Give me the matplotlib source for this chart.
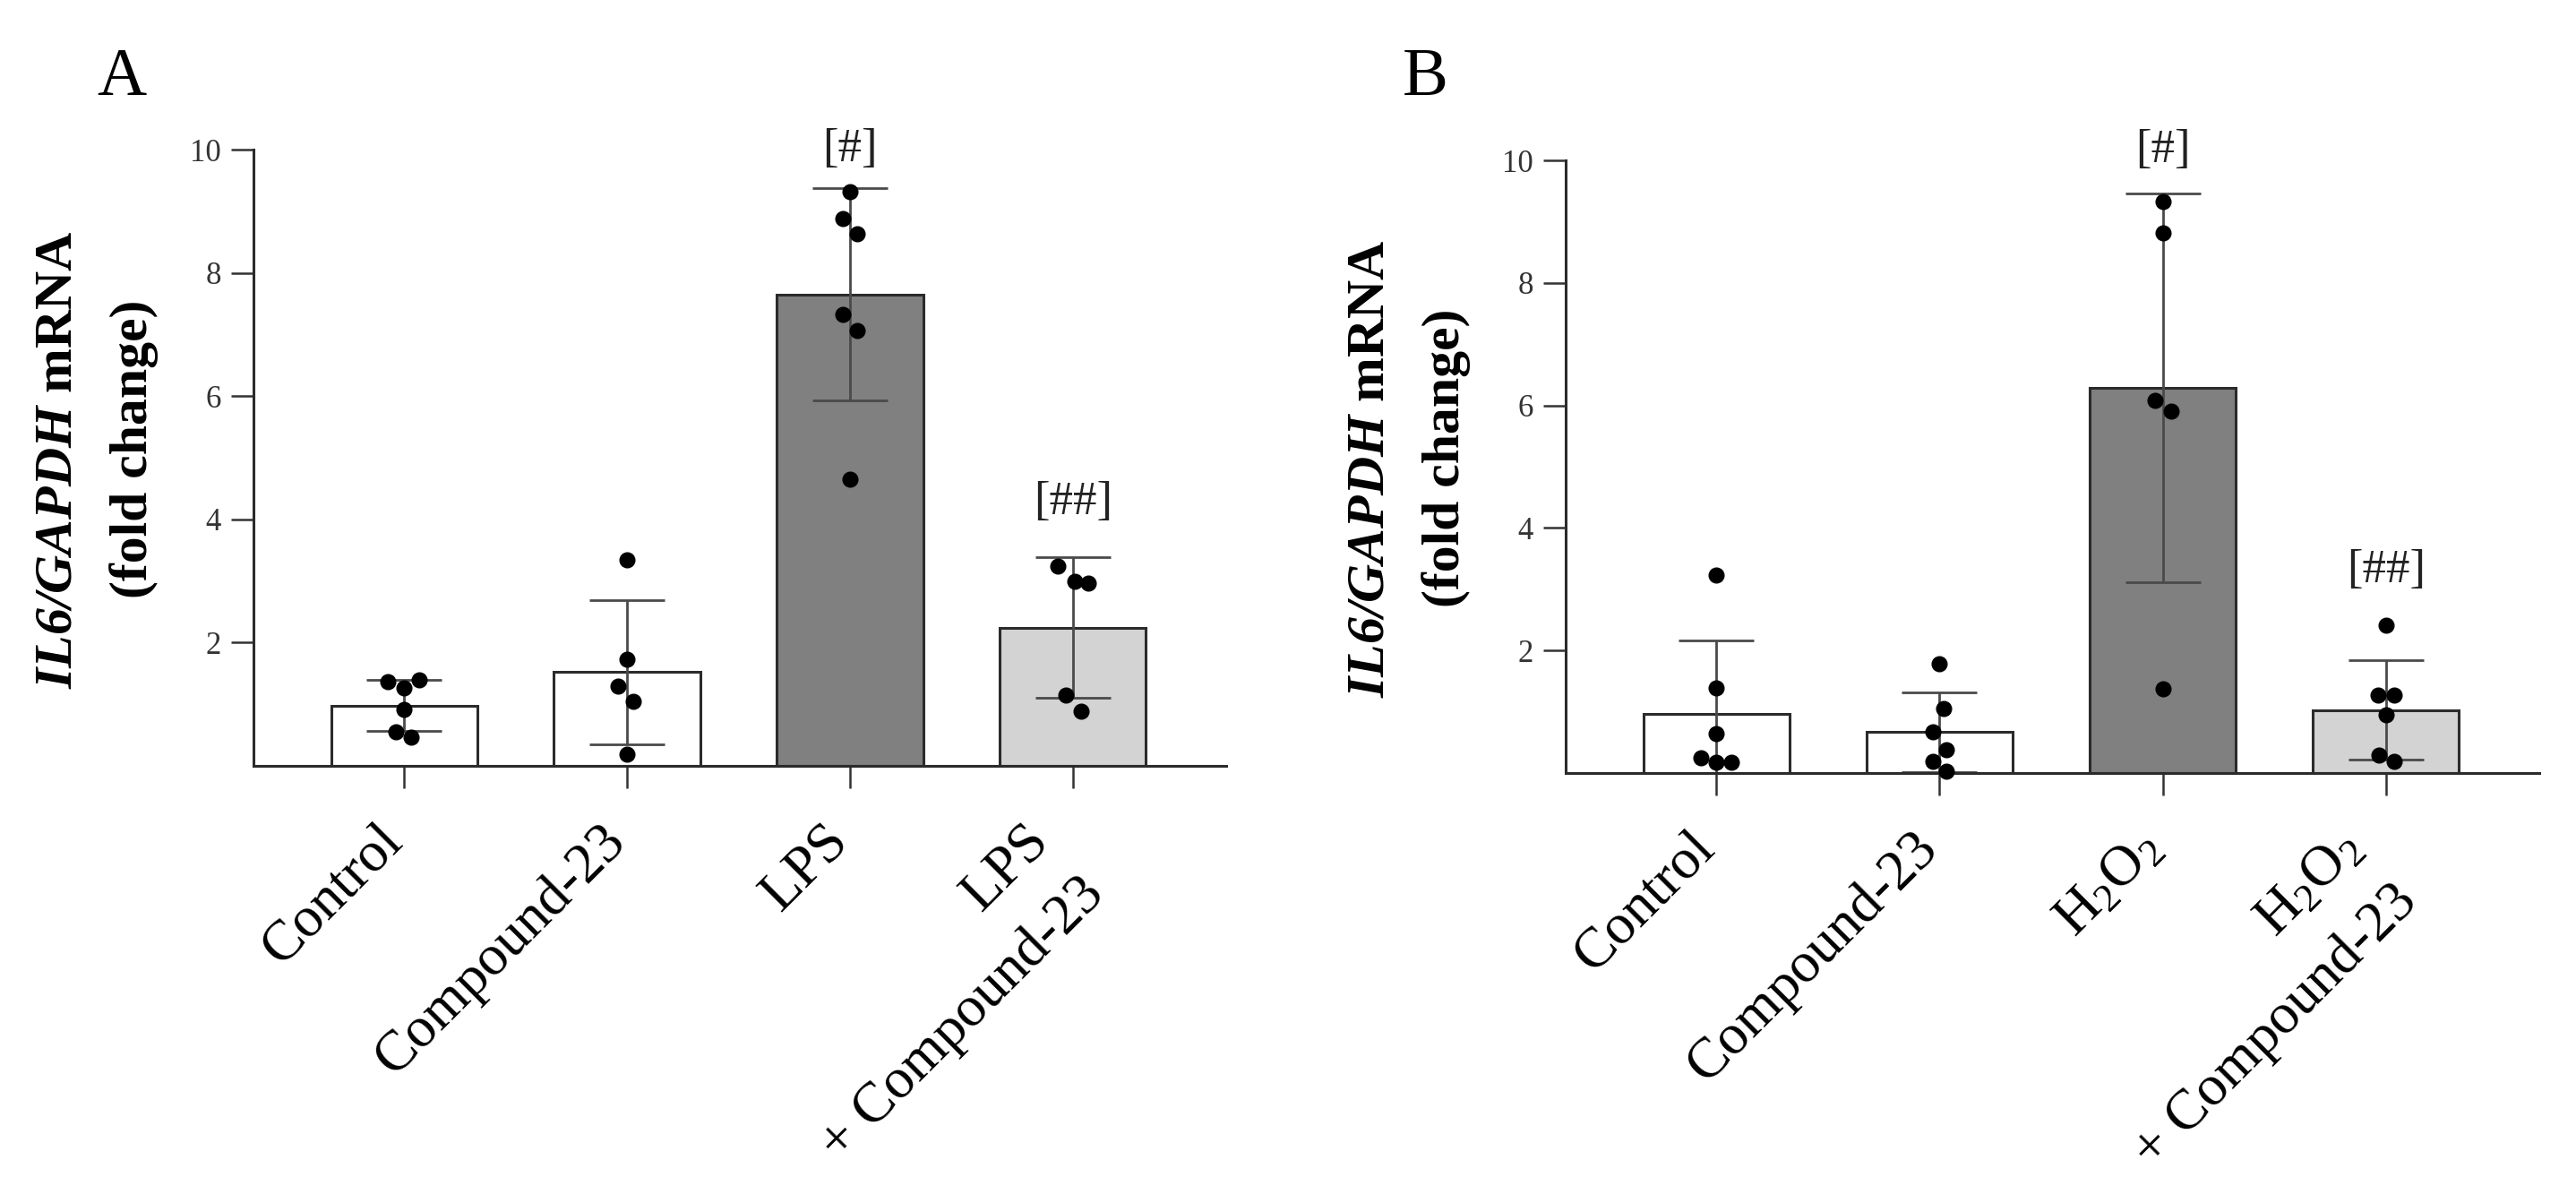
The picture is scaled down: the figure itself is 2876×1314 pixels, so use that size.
import numpy as np
import matplotlib
matplotlib.use("Agg")
import matplotlib.pyplot as plt
import matplotlib.transforms as mtransforms

plt.rcParams["font.family"] = ["Liberation Serif", "DejaVu Serif"]
plt.rcParams["mathtext.fontset"] = "custom"
plt.rcParams["mathtext.it"] = "Liberation Serif:italic:bold"
plt.rcParams["mathtext.rm"] = "Liberation Serif:italic:bold"
plt.rcParams["mathtext.bf"] = "Liberation Serif:bold"

W, H = 2876, 1314

# ---- panel A (LPS) ----
groups_a = ["Control", "Compound-23", "LPS", "LPS"]
groups2_a = ["", "", "", "+ Compound-23"]
mean_a = [0.98, 1.52, 7.65, 2.24]
sd_a = [0.41, 1.17, 1.72, 1.14]
pts_a = [
    [1.36, 1.27, 1.40, 0.92, 0.55, 0.47],
    [3.34, 1.73, 1.29, 1.05, 0.19],
    [9.32, 8.88, 8.63, 7.33, 7.07, 4.65],
    [3.24, 3.00, 2.96, 1.15, 0.88],
]
jit_a = [
    [-0.072, 0.0, 0.07, 0.0, -0.036, 0.032],
    [0.0, 0.0, -0.04, 0.03, 0.0],
    [0.0, -0.033, 0.033, -0.033, 0.033, 0.0],
    [-0.067, 0.007, 0.07, -0.03, 0.036],
]
sig_a = ["", "", "[#]", "[##]"]
sig_y_a = [0, 0, 10.0, 4.27]

# ---- panel B (H2O2) ----
h2o2 = r"H$\mathregular{_2}$O$\mathregular{_2}$"
groups_b = ["Control", "Compound-23", h2o2, h2o2]
groups2_b = ["", "", "", "+ Compound-23"]
mean_b = [0.97, 0.67, 6.29, 1.03]
sd_b = [1.19, 0.65, 3.17, 0.81]
pts_b = [
    [3.23, 1.39, 0.64, 0.25, 0.18, 0.18],
    [1.78, 1.05, 0.67, 0.38, 0.19, 0.03],
    [9.33, 8.82, 6.08, 5.91, 1.38],
    [2.41, 1.27, 1.27, 0.95, 0.29, 0.19],
]
jit_b = [
    [0.0, 0.0, 0.0, -0.068, 0.0, 0.068],
    [0.0, 0.02, -0.03, 0.03, -0.03, 0.03],
    [0.0, 0.0, -0.036, 0.036, 0.0],
    [0.0, -0.036, 0.036, 0.0, -0.032, 0.036],
]
sig_b = ["", "", "[#]", "[##]"]
sig_y_b = [0, 0, 10.16, 3.30]

fills = ["white", "white", "#808080", "#d3d3d3"]
yticks = [2, 4, 6, 8, 10]


def draw_panel(fig, ax, labels, labels2, mean, sd, pts, jit, sig, sig_y):
    x = np.arange(len(labels))
    ax.bar(x, mean, width=0.655, color=fills, edgecolor="#2b2b2b",
           linewidth=2.2, zorder=1)
    ax.errorbar(x, mean, yerr=sd, fmt="none", ecolor="#4a4a4a",
                elinewidth=2, capsize=30, capthick=2, zorder=2)
    for i in range(len(labels)):
        ax.plot(x[i] + np.array(jit[i]), pts[i], "o", color="black",
                markersize=12, zorder=3, clip_on=False)
        if sig[i]:
            ax.text(x[i], sig_y[i], sig[i], ha="center", va="center",
                    fontsize=38, color="#222222")
    ax.set_xlim(-0.675, 3.687)
    ax.set_ylim(0, 10)
    ax.set_yticks(yticks)
    ax.set_yticklabels([str(t) for t in yticks], fontsize=25, color="#333333")
    ax.set_xticks(x)
    ax.set_xticklabels(labels, rotation=45, ha="right", va="baseline",
                       rotation_mode="anchor", fontsize=46)
    ax.tick_params(axis="both", direction="out", length=18, width=1.8,
                   color="#333333")
    ax.tick_params(axis="y", pad=8)
    ax.tick_params(axis="x", pad=44)

    # second line of the combined-treatment labels
    trans = ax.get_xaxis_transform()
    line1_shift = mtransforms.ScaledTranslation(-0.25, 0, fig.dpi_scale_trans)
    line2_shift = mtransforms.ScaledTranslation(0.37, -1.45, fig.dpi_scale_trans)
    ticklabs = ax.get_xticklabels()
    for i, extra in enumerate(labels2):
        if extra:
            ticklabs[i].set_transform(ticklabs[i].get_transform() + line1_shift)
            ax.text(x[i], 0, extra, transform=trans + line2_shift,
                    rotation=45, ha="right", va="baseline",
                    rotation_mode="anchor", fontsize=46)

    for s in ["top", "right"]:
        ax.spines[s].set_visible(False)
    for s in ["left", "bottom"]:
        ax.spines[s].set_linewidth(2.2)
        ax.spines[s].set_color("#2b2b2b")


fig = plt.figure(figsize=(W / 100, H / 100), dpi=100)
ax_a = fig.add_axes([283 / W, 1 - 855 / H, (1369 - 283) / W, (855 - 167) / H])
ax_b = fig.add_axes([1748 / W, 1 - 863 / H, (2835 - 1748) / W, (863 - 179) / H])

draw_panel(fig, ax_a, groups_a, groups2_a, mean_a, sd_a, pts_a, jit_a, sig_a, sig_y_a)
draw_panel(fig, ax_b, groups_b, groups2_b, mean_b, sd_b, pts_b, jit_b, sig_b, sig_y_b)

# panel letters
fig.text(108 / W, 1 - 106 / H, "A", fontsize=55, va="baseline", ha="left")
fig.text(1566 / W, 1 - 106 / H, "B", fontsize=55, va="baseline", ha="left")

# y labels (two lines each)
ylab1 = r"$IL6/GAPDH$ mRNA"
ylab2 = "(fold change)"
for x1, x2, y1, y2 in [(66, 150, 513, 501), (1531, 1615, 523, 511)]:
    fig.text(x1 / W, 1 - y1 / H, ylab1, rotation=90, ha="center", va="center",
             fontsize=43, fontweight="bold")
    fig.text(x2 / W, 1 - y2 / H, ylab2, rotation=90, ha="center", va="center",
             fontsize=43, fontweight="bold")

fig.savefig("out.png", dpi=100, facecolor="white")
